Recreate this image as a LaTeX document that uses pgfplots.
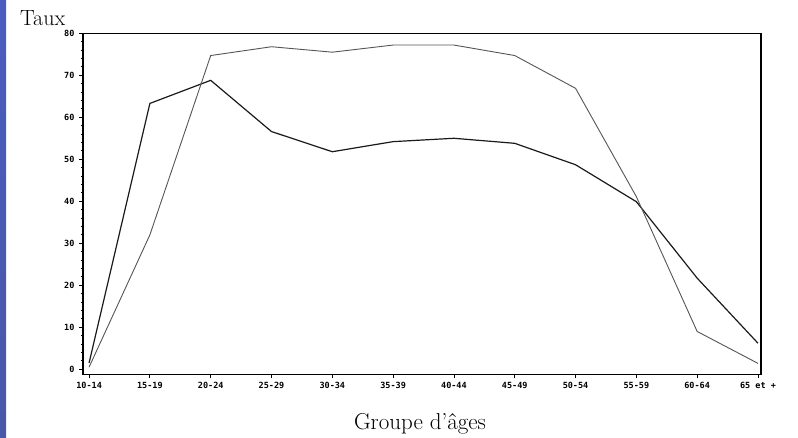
\documentclass[border=0pt]{standalone}
\usepackage{fontspec}
\usepackage{pgfplots}
\pgfplotsset{compat=1.18}
\newfontfamily\tickfont{DejaVu Sans Mono}
\definecolor{stripTop}{HTML}{4A5CC0}
\definecolor{stripMid}{HTML}{6A8AF2}
\definecolor{stripBot}{HTML}{4858A8}
\definecolor{darkline}{HTML}{1A1A1A}
\definecolor{grayline}{HTML}{555555}
\begin{document}
\begin{tikzpicture}[x=1pt,y=1pt]
\path[use as bounding box] (0,0) rectangle (798,438);
\fill[white] (0,0) rectangle (798,438);
\shade[top color=stripTop, middle color=stripMid, bottom color=stripBot] (0,0) rectangle (6,438);
\begin{axis}[
  at={(83pt,63.7pt)}, anchor=south west,
  scale only axis, width=678pt, height=341pt,
  xmin=-0.1, xmax=11.05, ymin=-1.2, ymax=80,
  axis line style={line width=1.3pt, black},
  xtick={0,...,11},
  xticklabels={10-14,15-19,20-24,25-29,30-34,35-39,40-44,45-49,50-54,55-59,60-64,65 et +},
  ytick={0,10,...,80},
  minor y tick num=4,
  tick align=outside,
  xtick pos=bottom, ytick pos=left,
  major tick length=4pt, minor tick length=2pt,
  tick style={black, line width=0.8pt},
  /pgf/number format/assume math mode=true,
  ticklabel style={font=\tickfont\bfseries\fontsize{8.5}{8.5}\selectfont},
  yticklabel style={xshift=-1pt},
  clip=false,
]
\addplot[darkline, line width=1.2pt] coordinates {
  (0,1.5) (1,63.3) (2,68.8) (3,56.6) (4,51.8) (5,54.2) (6,55.0) (7,53.8) (8,48.7) (9,39.9) (10,21.7) (11,6.2)
};
\addplot[grayline, line width=0.9pt] coordinates {
  (0,0.5) (1,32.0) (2,74.7) (3,76.8) (4,75.5) (5,77.2) (6,77.2) (7,74.7) (8,66.9) (9,41.1) (10,9.0) (11,1.4)
};
\end{axis}
\node[anchor=base west, inner sep=0pt, font=\fontsize{22}{22}\selectfont] at (20,412) {Taux};
\node[anchor=base, inner sep=0pt, font=\fontsize{23}{23}\selectfont\addfontfeature{LetterSpace=7}] at (420,8) {Groupe d'âges};
\end{tikzpicture}
\end{document}
